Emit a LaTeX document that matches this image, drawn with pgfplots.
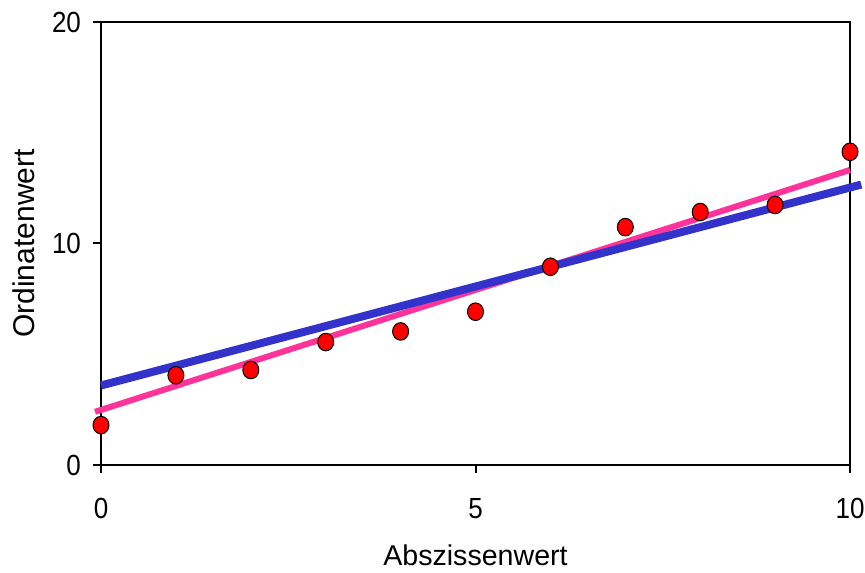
\documentclass[border=0pt]{standalone}
\usepackage{pgfplots}
\pgfplotsset{compat=1.18}
\usepackage{fontspec}
\setmainfont{Liberation Sans}
\definecolor{fitblue}{RGB}{51,51,204}
\definecolor{fitpink}{RGB}{255,51,153}
\begin{document}
\begin{tikzpicture}
\begin{axis}[
  scale only axis,
  width=374.5pt, height=221.5pt,
  xmin=0, xmax=10, ymin=0, ymax=20,
  xtick={0,5,10}, ytick={0,10,20},
  tick align=outside, tick pos=left,
  major tick length=4pt,
  every tick/.style={black, line width=1pt},
  axis line style={line width=1.2pt},
  clip=false,
  /pgf/number format/assume math mode=true,
  ticklabel style={font=\fontsize{13}{15}\selectfont, yscale=1.12},
  xticklabel style={anchor=center, yshift=-16pt},
  yticklabel style={anchor=east, xshift=-2.5pt},
  xlabel={Abszissenwert},
  ylabel={Ordinatenwert},
  xlabel style={font=\fontsize{14.3}{16}\selectfont,
    at={(rel axis cs:0.5,0)}, anchor=center, yshift=-45pt},
  ylabel style={font=\fontsize{15}{17}\selectfont,
    at={(rel axis cs:0,0.5)}, anchor=center, yshift=38.5pt},
]
% measured values
\addplot[only marks, mark=*, mark size=4pt,
  mark options={fill=red, draw=black, line width=0.5pt, yscale=1.1}]
  coordinates {
  (0,1.80) (1,4.05) (2,4.29) (3,5.55) (4,6.03) (5,6.92)
  (6,8.95) (7,10.74) (8,11.42) (9,11.74) (10,14.14)
  };
% fitted lines
\addplot[fitpink, line width=3pt] coordinates {(-0.08,2.40) (10,13.32)};
\addplot[fitblue, line width=4pt] coordinates {(0,3.59) (10.15,12.66)};
\end{axis}
\pgfresetboundingbox
\path (-50.5pt,-53.5pt) rectangle (382pt,232.5pt);
\end{tikzpicture}
\end{document}
